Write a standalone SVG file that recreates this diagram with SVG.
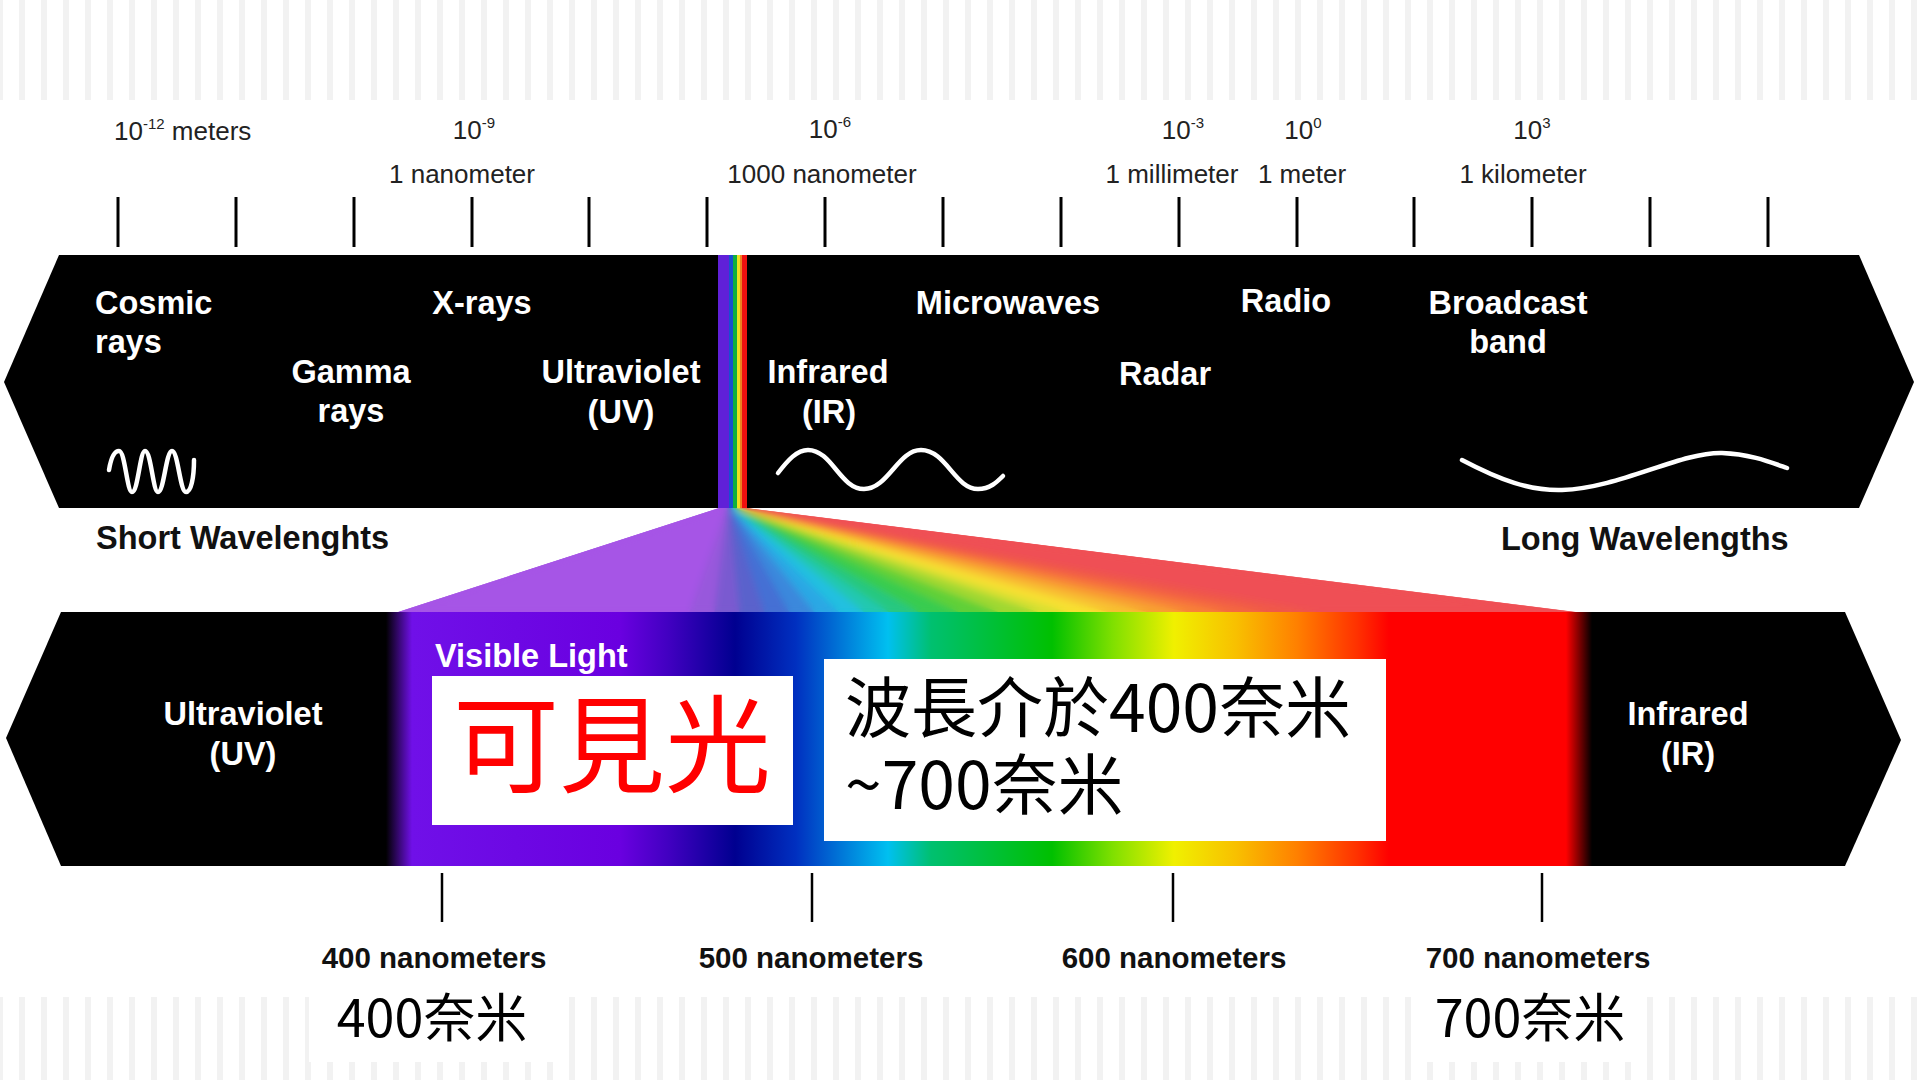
<svg xmlns="http://www.w3.org/2000/svg" width="1920" height="1080" viewBox="0 0 1920 1080">
<defs>
<pattern id="stripes" patternUnits="userSpaceOnUse" x="-3" y="0" width="22" height="40">
<rect x="0" y="0" width="6" height="40" fill="#f2f2f2"/>
</pattern>
<linearGradient id="vis" gradientUnits="userSpaceOnUse" x1="0" y1="0" x2="1920" y2="0">
<stop offset="0.2010" stop-color="#000000"/>
<stop offset="0.2146" stop-color="#7010e8"/>
<stop offset="0.3229" stop-color="#6a00e0"/>
<stop offset="0.3490" stop-color="#4000c0"/>
<stop offset="0.3828" stop-color="#000090"/>
<stop offset="0.4146" stop-color="#0030c0"/>
<stop offset="0.4464" stop-color="#0090e0"/>
<stop offset="0.4625" stop-color="#00c0f0"/>
<stop offset="0.4849" stop-color="#00c070"/>
<stop offset="0.5479" stop-color="#00c000"/>
<stop offset="0.5797" stop-color="#80e000"/>
<stop offset="0.6115" stop-color="#f0f000"/>
<stop offset="0.6438" stop-color="#f8c000"/>
<stop offset="0.6755" stop-color="#ff8000"/>
<stop offset="0.7073" stop-color="#ff3000"/>
<stop offset="0.7234" stop-color="#ff0000"/>
<stop offset="0.8156" stop-color="#ff0000"/>
<stop offset="0.8292" stop-color="#000000"/>
</linearGradient>
<clipPath id="fanclip"><polygon points="719,508 746,508 1576,612 398,612"/></clipPath>
<filter id="soft" x="-10%" y="-30%" width="120%" height="160%"><feGaussianBlur stdDeviation="3.5"/></filter>
<g id="wedges" stroke-width="1.2" stroke-linejoin="round">
<polygon points="719,508 727,508 690,612 398,612" fill="#a654e6" stroke="#a654e6"/>
<polygon points="727,508 728,508 715,612 690,612" fill="#9858dc" stroke="#9858dc"/>
<polygon points="728,508 729,508 740,612 715,612" fill="#7a5ad0" stroke="#7a5ad0"/>
<polygon points="729,508 730,508 765,612 740,612" fill="#5a62cc" stroke="#5a62cc"/>
<polygon points="730,508 731,508 790,612 765,612" fill="#4470d4" stroke="#4470d4"/>
<polygon points="731,508 732,508 815,612 790,612" fill="#3a88dc" stroke="#3a88dc"/>
<polygon points="732,508 733,508 840,612 815,612" fill="#2aa8e4" stroke="#2aa8e4"/>
<polygon points="733,508 734,508 865,612 840,612" fill="#20c0e0" stroke="#20c0e0"/>
<polygon points="734,508 735,508 890,612 865,612" fill="#20c8b0" stroke="#20c8b0"/>
<polygon points="735,508 736,508 920,612 890,612" fill="#28c880" stroke="#28c880"/>
<polygon points="736,508 736.5,508 960,612 920,612" fill="#38cc50" stroke="#38cc50"/>
<polygon points="736.5,508 737,508 1000,612 960,612" fill="#60d038" stroke="#60d038"/>
<polygon points="737,508 737.7,508 1040,612 1000,612" fill="#a0d830" stroke="#a0d830"/>
<polygon points="737.7,508 738.4,508 1070,612 1040,612" fill="#d8e030" stroke="#d8e030"/>
<polygon points="738.4,508 739.2,508 1110,612 1070,612" fill="#f8e030" stroke="#f8e030"/>
<polygon points="739.2,508 740,508 1150,612 1110,612" fill="#f8c030" stroke="#f8c030"/>
<polygon points="740,508 740.7,508 1190,612 1150,612" fill="#f8a030" stroke="#f8a030"/>
<polygon points="740.7,508 741.4,508 1230,612 1190,612" fill="#f88038" stroke="#f88038"/>
<polygon points="741.4,508 742,508 1270,612 1230,612" fill="#f46840" stroke="#f46840"/>
<polygon points="742,508 743,508 1320,612 1270,612" fill="#f05848" stroke="#f05848"/>
<polygon points="743,508 746,508 1576,612 1320,612" fill="#ef5055" stroke="#ef5055"/>
</g>
<style>
.scale{font-family:"Liberation Sans",Arial,sans-serif;font-size:26px;fill:#222;}
.sup{font-size:15px;}
.wl{font-family:"Liberation Sans",Arial,sans-serif;font-size:32.5px;font-weight:bold;fill:#fff;}
.side{font-family:"Liberation Sans",Arial,sans-serif;font-size:32.5px;font-weight:bold;fill:#111;}
.nm{font-family:"Liberation Sans",Arial,sans-serif;font-size:29.5px;font-weight:bold;fill:#111;text-anchor:middle;}
.cjk{font-family:"Noto Sans CJK TC","Noto Sans CJK SC",sans-serif;}
.tick{stroke:#000;stroke-width:3;}
.wave{fill:none;stroke:#fff;stroke-width:4.5;stroke-linecap:round;stroke-linejoin:round;}
.mid{text-anchor:middle;}
</style>
</defs>

<rect x="0" y="0" width="1920" height="1080" fill="#fff"/>
<rect x="0" y="0" width="1920" height="100" fill="url(#stripes)"/>
<rect x="0" y="997" width="1920" height="83" fill="url(#stripes)"/>
<rect x="309" y="997" width="245" height="65" fill="#fff"/>
<rect x="1425" y="997" width="221" height="65" fill="#fff"/>

<g id="scale-labels" class="scale">
<text x="114" y="140">10<tspan class="sup" dy="-11">-12</tspan><tspan dy="11"> meters</tspan></text>
<text class="mid" x="474" y="139">10<tspan class="sup" dy="-11">-9</tspan></text>
<text class="mid" x="462" y="183">1 nanometer</text>
<text class="mid" x="830" y="138">10<tspan class="sup" dy="-11">-6</tspan></text>
<text class="mid" x="822" y="183">1000 nanometer</text>
<text class="mid" x="1183" y="139">10<tspan class="sup" dy="-11">-3</tspan></text>
<text class="mid" x="1172" y="183">1 millimeter</text>
<text class="mid" x="1303" y="139">10<tspan class="sup" dy="-11">0</tspan></text>
<text class="mid" x="1302" y="183">1 meter</text>
<text class="mid" x="1532" y="139">10<tspan class="sup" dy="-11">3</tspan></text>
<text class="mid" x="1523" y="183">1 kilometer</text>
</g>

<g id="connectors">
<g id="top-ticks" class="tick">
<line x1="118" y1="197" x2="118" y2="247"/>
<line x1="236" y1="197" x2="236" y2="247"/>
<line x1="354" y1="197" x2="354" y2="247"/>
<line x1="472" y1="197" x2="472" y2="247"/>
<line x1="589" y1="197" x2="589" y2="247"/>
<line x1="707" y1="197" x2="707" y2="247"/>
<line x1="825" y1="197" x2="825" y2="247"/>
<line x1="943" y1="197" x2="943" y2="247"/>
<line x1="1061" y1="197" x2="1061" y2="247"/>
<line x1="1179" y1="197" x2="1179" y2="247"/>
<line x1="1297" y1="197" x2="1297" y2="247"/>
<line x1="1414" y1="197" x2="1414" y2="247"/>
<line x1="1532" y1="197" x2="1532" y2="247"/>
<line x1="1650" y1="197" x2="1650" y2="247"/>
<line x1="1768" y1="197" x2="1768" y2="247"/>
</g>
<g id="bottom-ticks" class="tick" style="stroke-width:2.5">
<line x1="442" y1="873" x2="442" y2="922"/>
<line x1="812" y1="873" x2="812" y2="922"/>
<line x1="1173" y1="873" x2="1173" y2="922"/>
<line x1="1542" y1="873" x2="1542" y2="922"/>
</g>
</g>

<g id="spectrum-band">
<polygon points="59,255 1859,255 1914,382 1859,508 59,508 4,382" fill="#000"/>
<rect x="718" y="255" width="11" height="253" fill="#6020d8"/>
<rect x="729" y="255" width="4" height="253" fill="#1850d0"/>
<rect x="733" y="255" width="4" height="253" fill="#10b040"/>
<rect x="737" y="255" width="3" height="253" fill="#f0e020"/>
<rect x="740" y="255" width="2" height="253" fill="#f08020"/>
<rect x="742" y="255" width="5" height="253" fill="#f01010"/>
</g>

<g id="prism-fan" clip-path="url(#fanclip)">
<use href="#wedges"/>
<use href="#wedges" filter="url(#soft)"/>
</g>

<g id="visible-band">
<polygon points="61,612 1845,612 1901,740 1845,866 61,866 6,738" fill="url(#vis)"/>
</g>

<g id="waves">
<path class="wave" d="M109,470 C111,458 114,451 119,451 C125,451 127,492 132,492 C138,492 140,451 145,451 C151,451 153,492 158,492 C164,492 166,451 172,451 C178,451 180,492 186,492 C191,492 194,478 194,460"/>
<path class="wave" d="M778,473 C788,460 797,450 808,450 C832,450 840,489 864,489 C888,489 898,450 921,450 C946,450 955,489 978,489 C990,489 997,482 1003,476"/>
<path class="wave" d="M1462,460 C1500,480 1530,491 1562,490 C1620,488 1680,452 1722,453 C1750,454 1770,462 1787,468"/>
</g>

<g id="cosmic-rays" class="wl"><text x="95" y="314">Cosmic</text><text x="95" y="353">rays</text></g>
<g id="x-rays" class="wl"><text class="mid" x="482" y="314">X-rays</text></g>
<g id="gamma-rays" class="wl"><text class="mid" x="351" y="383">Gamma</text><text class="mid" x="351" y="422">rays</text></g>
<g id="ultraviolet-top" class="wl"><text class="mid" x="621" y="383">Ultraviolet</text><text class="mid" x="621" y="423">(UV)</text></g>
<g id="infrared-top" class="wl"><text class="mid" x="828" y="383">Infrared</text><text class="mid" x="829" y="423">(IR)</text></g>
<g id="microwaves" class="wl"><text class="mid" x="1008" y="314">Microwaves</text></g>
<g id="radio" class="wl"><text class="mid" x="1286" y="312">Radio</text></g>
<g id="radar" class="wl"><text class="mid" x="1165" y="385">Radar</text></g>
<g id="broadcast" class="wl"><text class="mid" x="1508" y="314">Broadcast</text><text class="mid" x="1508" y="353">band</text></g>

<g id="short-wl" class="side"><text x="96" y="549">Short Wavelenghts</text></g>
<g id="long-wl" class="side"><text x="1501" y="550">Long Wavelengths</text></g>

<g id="ultraviolet-low" class="wl"><text class="mid" x="243" y="725">Ultraviolet</text><text class="mid" x="243" y="765">(UV)</text></g>
<g id="visible-light" class="wl"><text x="435" y="667">Visible Light</text></g>
<g id="infrared-low" class="wl"><text class="mid" x="1688" y="725">Infrared</text><text class="mid" x="1688" y="765">(IR)</text></g>

<g id="visible-box">
<rect x="432" y="676" width="361" height="149" fill="#fff"/>
<text class="cjk" x="612" y="784" font-size="106" fill="#ff0000" text-anchor="middle">可見光</text>
</g>
<g id="range-box">
<rect x="824" y="659" width="562" height="182" fill="#fff"/>
<text class="cjk" x="845" y="732" font-size="66" fill="#000">波長介於400奈米</text>
<text class="cjk" x="845" y="809" font-size="66" fill="#000">~700奈米</text>
</g>

<g id="nm-labels">
<text class="nm" x="434" y="968">400 nanometers</text>
<text class="nm" x="811" y="968">500 nanometers</text>
<text class="nm" x="1174" y="968">600 nanometers</text>
<text class="nm" x="1538" y="968">700 nanometers</text>
</g>
<g id="nm400"><text class="cjk" x="432" y="1037" font-size="52" fill="#000" text-anchor="middle">400奈米</text></g>
<g id="nm700"><text class="cjk" x="1530" y="1037" font-size="52" fill="#000" text-anchor="middle">700奈米</text></g>
</svg>
